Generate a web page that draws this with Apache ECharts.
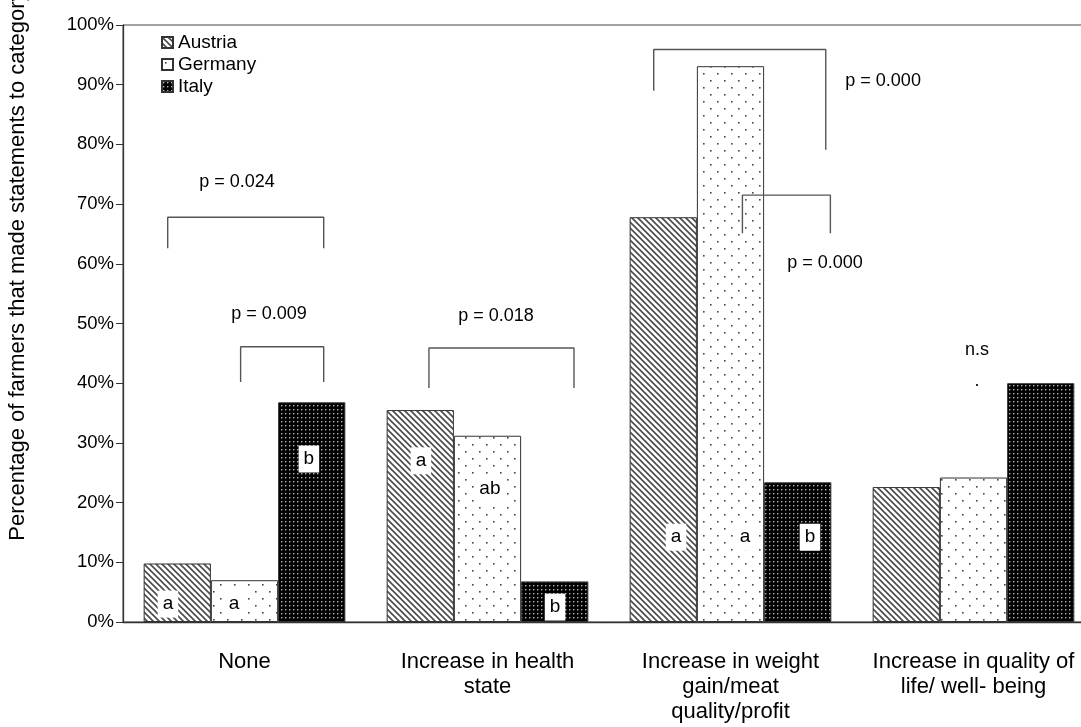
<!DOCTYPE html>
<html>
<head>
<meta charset="utf-8">
<script src="https://cdn.jsdelivr.net/npm/echarts@6/dist/echarts.min.js"></script>
<style>
  html, body { margin: 0; padding: 0; background: #fff; }
  #main { width: 1081px; height: 727px; }
</style>
</head>
<body>
<div id="main"></div>
<script>
const categories = ['None', 'Increase in health\nstate', 'Increase in weight\ngain/meat\nquality/profit', 'Increase in quality of\nlife/ well- being']
const countries = ['Austria', 'Germany', 'Italy']
const austria = [9.8, 35.5, 67.8, 22.6]
const germany = [7.0, 31.2, 93.1, 24.2]
const italy = [36.8, 6.8, 23.4, 40.0]

// significance letters: [x on 0..4 category scale, y %, letter]
const letters = [
  [0.185, 3.0, 'a'], [0.457, 3.0, 'a'], [0.765, 27.3, 'b'],
  [1.226, 27.0, 'a'], [1.510, 22.3, 'ab'], [1.778, 2.5, 'b'],
  [2.276, 14.2, 'a'], [2.560, 14.2, 'a'], [2.827, 14.2, 'b'],
]
// p-value texts
const pTexts = [
  [0.469, 73.7, 'p = 0.024'], [0.601, 51.6, 'p = 0.009'], [1.535, 51.3, 'p = 0.018'],
  [3.128, 90.6, 'p = 0.000'], [2.889, 60.1, 'p = 0.000'], [3.514, 45.6, 'n.s'], [3.514, 40.4, '.'],
]
// brackets: x1, x2, top, left leg end, right leg end
const brackets = [
  [0.184, 0.826, 67.8, 62.6, 62.6],
  [0.484, 0.826, 46.1, 40.2, 40.2],
  [1.259, 1.856, 45.9, 39.2, 39.2],
  [2.184, 2.892, 95.9, 89.0, 79.1],
  [2.549, 2.911, 71.5, 65.1, 65.1],
]

const makePattern = (size, draw) => {
  const c = document.createElement('canvas')
  c.width = size
  c.height = size
  draw(c.getContext('2d'), size)
  return { image: c, repeat: 'repeat' }
}

const stripes = makePattern(6, (g, n) => {
  g.fillStyle = '#fff'
  g.fillRect(0, 0, n, n)
  g.strokeStyle = '#4a4a4a'
  g.lineWidth = 1.6
  g.beginPath()
  ;[-n, 0, n].forEach((k) => {
    g.moveTo(-1, k - 1)
    g.lineTo(n + 1, n + k + 1)
  })
  g.stroke()
})

const sparseDots = makePattern(14, (g, n) => {
  g.fillStyle = '#fff'
  g.fillRect(0, 0, n, n)
  g.fillStyle = '#444'
  g.fillRect(3, 3, 1.6, 1.6)
  g.fillRect(10, 10, 1.6, 1.6)
})

const denseDots = makePattern(4, (g, n) => {
  g.fillStyle = '#000'
  g.fillRect(0, 0, n, n)
  g.fillStyle = '#b8b8b8'
  g.fillRect(1, 1, 1.4, 1.4)
})

const fills = [stripes, sparseDots, denseDots]
const values = [austria, germany, italy]

const barSeries = countries.map((name, i) => ({
  name,
  type: 'bar',
  data: values[i],
  barGap: '0%',
  barCategoryGap: '17%',
  itemStyle: { color: fills[i], borderColor: '#333', borderWidth: 1 },
  emphasis: { disabled: true },
}))

const bracketSeries = brackets.map((b) => ({
  type: 'line',
  xAxisIndex: 1,
  data: [[b[0], b[3]], [b[0], b[2]], [b[1], b[2]], [b[1], b[4]]],
  symbol: 'none',
  silent: true,
  lineStyle: { color: '#555', width: 1.4 },
  z: 5,
}))

const textSeries = (items, boxed) => ({
  type: 'scatter',
  xAxisIndex: 1,
  symbolSize: 0,
  silent: true,
  z: 6,
  itemStyle: { opacity: 1 },
  data: items.map((d) => ({ value: [d[0], d[1]], name: d[2] })),
  label: {
    show: true,
    position: 'inside',
    formatter: '{b}',
    color: '#000',
    fontFamily: 'Liberation Sans, Arial, sans-serif',
    fontSize: boxed ? 19 : 18,
    backgroundColor: boxed ? '#fff' : 'transparent',
    padding: boxed ? [4, 5, 4, 5] : 0,
  },
})

const chart = echarts.init(document.getElementById('main'))
chart.setOption({
  animation: false,
  textStyle: { fontFamily: 'Liberation Sans, Arial, sans-serif' },
  grid: {
    left: 123, right: -14, top: 25, bottom: 105,
    outerBoundsMode: 'none',
    containLabel: false,
    show: true, borderColor: '#444', borderWidth: 1,
  },
  legend: {
    data: countries,
    orient: 'vertical',
    left: 156,
    top: 28,
    itemGap: 3,
    itemWidth: 11,
    itemHeight: 11,
    icon: 'rect',
    textStyle: { fontSize: 19, color: '#000' },
  },
  xAxis: [
    {
      type: 'category',
      data: categories,
      axisLine: { lineStyle: { color: '#333', width: 1.3 } },
      axisTick: { length: 7, lineStyle: { color: '#333' } },
      axisLabel: { color: '#000', fontSize: 22, lineHeight: 25, margin: 27, interval: 0 },
    },
    { type: 'value', min: 0, max: 4, show: false },
  ],
  yAxis: {
    type: 'value',
    min: 0,
    max: 100,
    interval: 10,
    name: 'Percentage of farmers that made statements to category',
    nameLocation: 'middle',
    nameRotate: 90,
    nameGap: 94,
    nameTextStyle: { color: '#000', fontSize: 22, padding: [0, 0, 0, 116] },
    axisLine: { show: true, lineStyle: { color: '#333', width: 1.3 } },
    axisTick: { show: true, length: 7, lineStyle: { color: '#333' } },
    axisLabel: { color: '#000', fontSize: 18.5, formatter: '{value}%', margin: 9 },
    splitLine: { show: false },
  },
  series: [
    ...barSeries,
    ...bracketSeries,
    textSeries(letters, true),
    textSeries(pTexts, false),
  ],
})
</script>
</body>
</html>
